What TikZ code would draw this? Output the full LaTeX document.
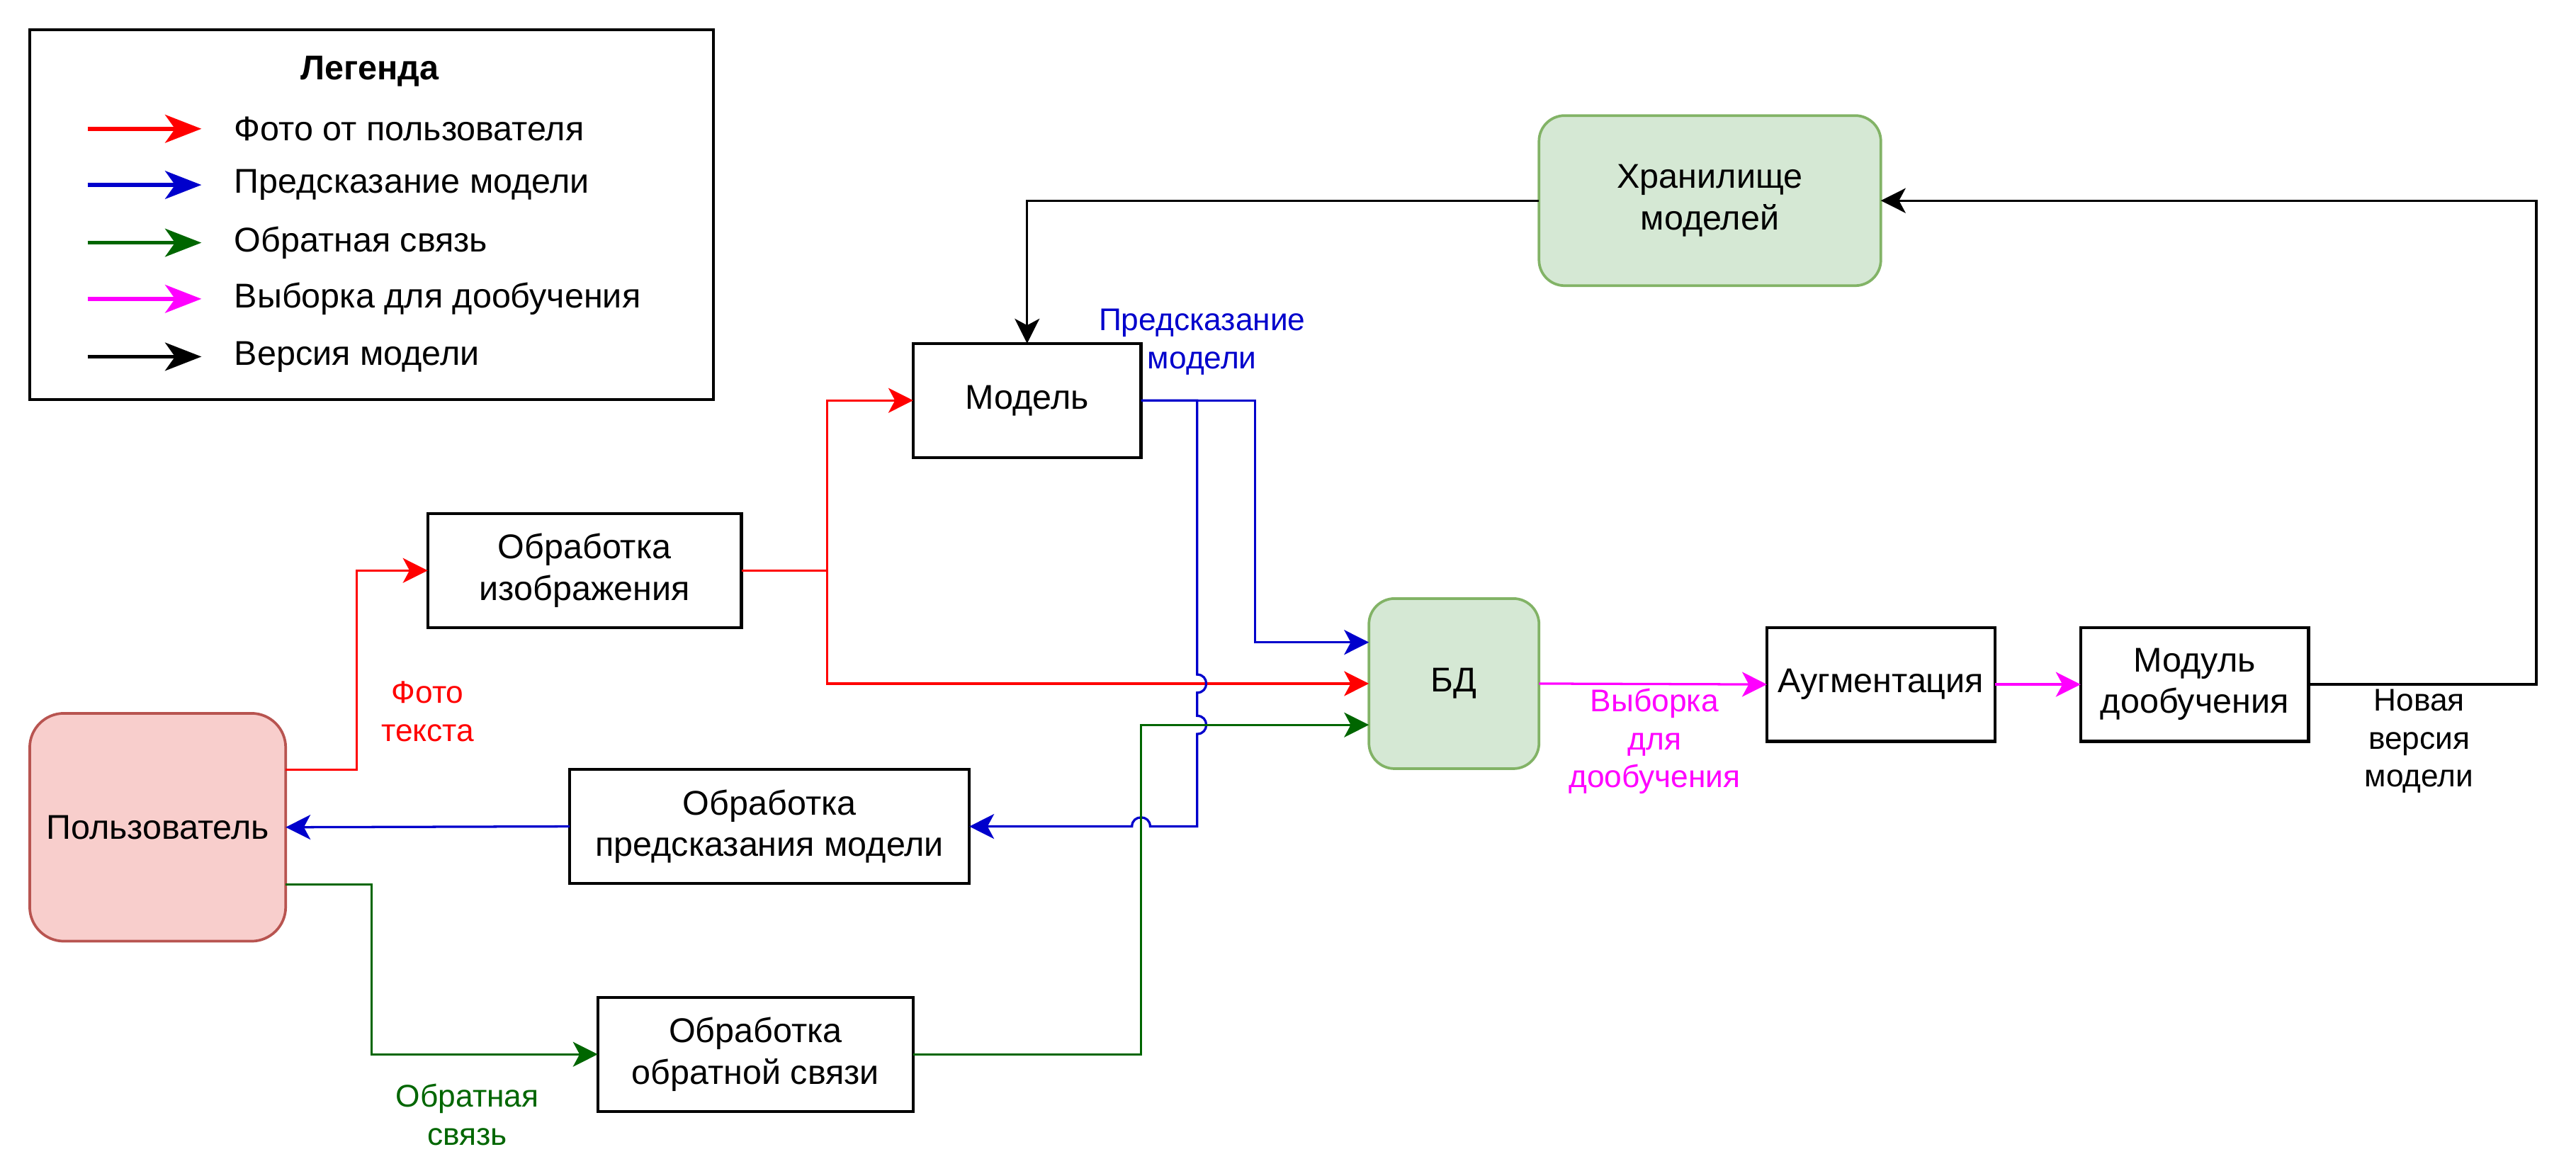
\documentclass[tikz,border=0pt]{standalone}
\usepackage{fontspec}
\setmainfont{Liberation Sans}
\usetikzlibrary{arrows.meta,calc}
\definecolor{cred}{HTML}{FF0000}
\definecolor{cblue}{HTML}{0000CC}
\definecolor{cgreen}{HTML}{006600}
\definecolor{cmag}{HTML}{FF00FF}
\definecolor{pinkfill}{HTML}{F8CECC}
\definecolor{pinkline}{HTML}{B85450}
\definecolor{greenfill}{HTML}{D5E8D4}
\definecolor{greenline}{HTML}{82B366}
\begin{document}
\begin{tikzpicture}[x=1pt,y=-1pt,
  every node/.style={font=\fontsize{20.8}{25}\selectfont, inner sep=0pt, outer sep=0pt, align=center},
  box/.style={draw=black, line width=1.8pt, fill=white, rectangle},
  pinkbox/.style={draw=pinkline, fill=pinkfill, line width=1.6pt, rounded corners=20.7pt, rectangle},
  greenbox/.style={draw=greenline, fill=greenfill, line width=1.6pt, rounded corners=15.5pt, rectangle},
  conn/.style={line width=1.4pt},
  arr/.style={conn, -{Stealth[length=15pt,width=15pt,inset=4pt]}},
  legarr/.style={line width=2.4pt, -{Stealth[length=22pt,width=17pt,inset=6pt]}},
  lbl/.style={font=\fontsize{19}{23}\selectfont},
]
\useasboundingbox (0,0) rectangle (1560,712.2);

% legend
\draw[line width=2pt] (18,18) rectangle (432,242);
\node (legtitle) at (224,43) {\textbf{Легенда}};
\coordinate (la1) at (53,78);  \coordinate (lb1) at (122,78);
\coordinate (la2) at (53,112); \coordinate (lb2) at (122,112);
\coordinate (la3) at (53,147); \coordinate (lb3) at (122,147);
\coordinate (la4) at (53,181); \coordinate (lb4) at (122,181);
\coordinate (la5) at (53,216); \coordinate (lb5) at (122,216);
\draw[legarr, cred] (la1) -- (lb1);
\draw[legarr, cblue] (la2) -- (lb2);
\draw[legarr, cgreen] (la3) -- (lb3);
\draw[legarr, cmag] (la4) -- (lb4);
\draw[legarr, black] (la5) -- (lb5);
\node[anchor=west] (lt1) at (142,78) {Фото от пользователя};
\node[anchor=west] (lt2) at (142,112) {Предсказание модели};
\node[anchor=west] (lt3) at (142,147) {Обратная связь};
\node[anchor=west] (lt4) at (142,181) {Выборка для дообучения};
\node[anchor=west] (lt5) at (142,216) {Версия модели};

% nodes
\node[greenbox, minimum width=207pt, minimum height=103pt] (storage) at (1035.5,121.5) {Хранилище\\моделей};
\node[box, minimum width=138pt, minimum height=69pt] (model) at (622,242.5) {Модель};
\node[box, minimum width=190pt, minimum height=69pt] (imgproc) at (354,345.5) {Обработка\\изображения};
\node[pinkbox, minimum width=155pt, minimum height=138pt] (user) at (95.5,501) {Пользователь};
\node[box, minimum width=242pt, minimum height=69pt] (predproc) at (466,500.5) {Обработка\\предсказания модели};
\node[box, minimum width=191pt, minimum height=69pt] (fbproc) at (457.5,638.5) {Обработка\\обратной связи};
\node[greenbox, minimum width=103pt, minimum height=103pt] (bd) at (880.5,414) {БД};
\node[box, minimum width=138pt, minimum height=69pt] (aug) at (1139,414.5) {Аугментация};
\node[box, minimum width=138pt, minimum height=69pt] (ft) at (1329,414.5) {Модуль\\дообучения};

% red connectors
\draw[arr, cred] ([yshift=35pt]user.east) -- (216,466) -- (216,345.5) -- (imgproc.west);
\draw[arr, cred] (imgproc.east) -- (501,345.5) |- (model.west);
\draw[arr, cred] (501,345.5) |- (bd.west);

% blue connectors
\draw[arr, cblue] (model.east) -- (760,242.5) |- ([yshift=25pt]bd.west);
\draw[arr, cblue] (model.east) -- (725,242.5) -- (725,408.5)
   .. controls (732.3,408.5) and (732.3,419.5) .. (725,419.5)
   -- (725,433.5)
   .. controls (732.3,433.5) and (732.3,444.5) .. (725,444.5)
   -- (725,500.5) -- (696.5,500.5)
   .. controls (696.5,493.2) and (685.5,493.2) .. (685.5,500.5)
   -- (predproc.east);
\draw[arr, cblue] (predproc.west) -- (user.east);

% green connectors
\draw[arr, cgreen] ([yshift=-34.5pt]user.east) -- (225,535.5) |- (fbproc.west);
\draw[arr, cgreen] (fbproc.east) -- (691,638.5) |- ([yshift=-25pt]bd.west);

% magenta connectors
\draw[arr, cmag] (bd.east) -- (aug.west);
\draw[arr, cmag] (aug.east) -- (ft.west);

% black connectors
\draw[arr, black] (ft.east) -- (1536,414.5) |- (storage.east);
\draw[arr, black] (storage.west) -| (model.north);

% labels
\node[lbl, text=cblue] (lpred) at (728,207) {Предсказание\\модели};
\node[lbl, text=cred] (lphoto) at (259,431) {Фото\\текста};
\node[lbl, text=cgreen] (lfb) at (283,675) {Обратная\\связь};
\node[lbl, text=cmag] (lsample) at (1002,449) {Выборка\\для\\дообучения};
\node[lbl, text=black] (lnew) at (1465,449) {Новая\\версия\\модели};
\end{tikzpicture}
\end{document}
